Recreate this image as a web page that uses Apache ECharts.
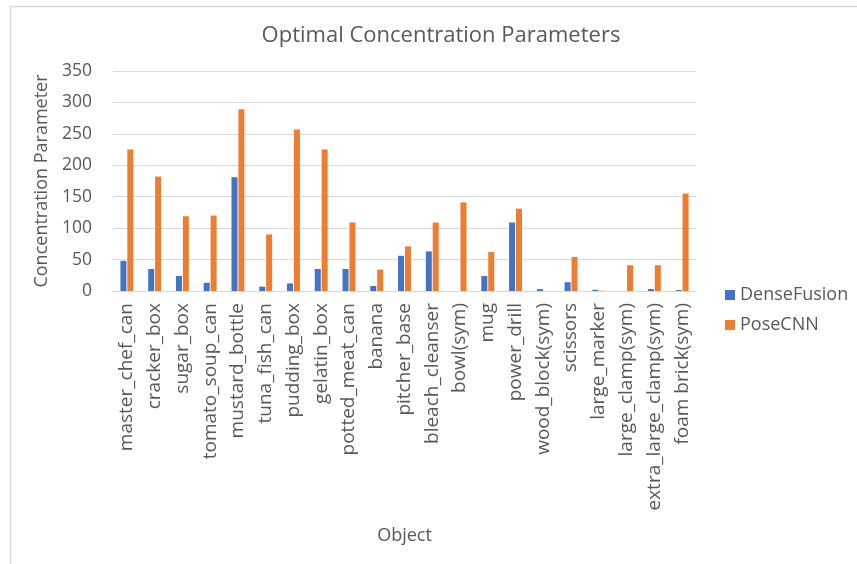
<!DOCTYPE html>
<html>
<head>
<meta charset="utf-8">
<script src="https://cdn.jsdelivr.net/npm/echarts@6/dist/echarts.min.js"></script>
<style>
html,body{margin:0;padding:0;background:#fff;}
#chart{width:857px;height:564px;}
</style>
</head>
<body>
<div id="chart"></div>
<script>
var categories = ['master_chef_can','cracker_box','sugar_box','tomato_soup_can','mustard_bottle','tuna_fish_can','pudding_box','gelatin_box','potted_meat_can','banana','pitcher_base','bleach_cleanser','bowl(sym)','mug','power_drill','wood_block(sym)','scissors','large_marker','large_clamp(sym)','extra_large_clamp(sym)','foam brick(sym)'];
var denseFusion = [48, 35, 24, 13, 181, 7, 12, 35, 35, 8, 56, 63, 0, 24, 109, 3, 14, 2, 0, 3, 1.5];
var poseCNN = [225, 182, 119, 120, 289, 90, 257, 225, 109, 34, 71, 109, 141, 62, 131, 0, 54, 0.5, 41, 41, 155];
var yTicks = [0, 50, 100, 150, 200, 250, 300, 350];

var FONT = 'Open Sans';
var TXT = '#595959';
var chart = echarts.init(document.getElementById('chart'));
chart.setOption({
  animation: false,
  backgroundColor: '#fff',
  graphic: [{
    type: 'rect', left: 8, top: 4, silent: true,
    shape: {width: 900, height: 620},
    style: {fill: 'none', stroke: '#d9d9d9', lineWidth: 1.5}
  }],
  title: {
    text: 'Optimal Concentration Parameters',
    left: 436, top: 20, textAlign: 'center',
    textStyle: {fontFamily: FONT, fontSize: 22, fontWeight: 'normal', color: TXT}
  },
  legend: {
    orient: 'vertical', left: 720, top: 281,
    itemWidth: 10, itemHeight: 10, itemGap: 12,
    icon: 'rect',
    textStyle: {fontFamily: FONT, fontSize: 18, color: TXT},
    data: ['DenseFusion', 'PoseCNN']
  },
  grid: {left: 113, right: 161, top: 71, bottom: 273, containLabel: false},
  xAxis: {
    type: 'category', data: categories,
    name: 'Object', nameLocation: 'middle', nameGap: 236,
    nameTextStyle: {fontFamily: FONT, fontSize: 18, color: TXT},
    axisLine: {lineStyle: {color: '#d9d9d9', width: 1}},
    axisTick: {show: false},
    axisLabel: {interval: 0, rotate: 90, fontFamily: FONT, fontSize: 19, color: TXT, margin: 12}
  },
  yAxis: {
    type: 'value', min: 0, max: 350, interval: 50,
    name: 'Concentration Parameter', nameLocation: 'middle', nameGap: 60,
    nameTextStyle: {fontFamily: FONT, fontSize: 18, color: TXT},
    axisLine: {show: false}, axisTick: {show: false},
    axisLabel: {fontFamily: FONT, fontSize: 17.5, color: TXT, margin: 21,
      formatter: function (v) { return yTicks.indexOf(v) >= 0 ? String(v) : ''; }},
    splitLine: {lineStyle: {color: '#d9d9d9', width: 1}}
  },
  series: [
    {name: 'DenseFusion', type: 'bar', data: denseFusion, barWidth: 6, barGap: '15%',
     itemStyle: {color: '#4472C4'}},
    {name: 'PoseCNN', type: 'bar', data: poseCNN, barWidth: 6,
     itemStyle: {color: '#ED7D31'}}
  ]
});
</script>
</body>
</html>
